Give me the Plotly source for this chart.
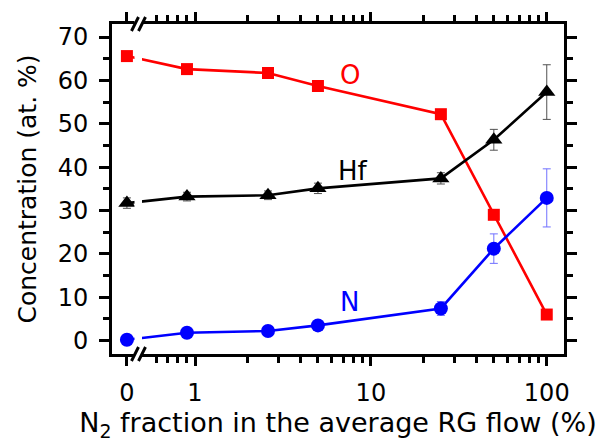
import math
import plotly.graph_objects as go

# N2 fraction in the average RG flow (%), first point is 0 (shown left of the axis break)
n2_fraction = [0, 0.9, 2.6, 5, 25, 50, 100]
x_tick_values = [0, 1, 10, 100]

# Composition (at. %) and uncertainties
o_conc = [65.6, 62.6, 61.7, 58.7, 52.2, 29.0, 6.0]
o_err = [0.5, 0.5, 0.5, 0.5, 0.5, 0.5, 0.5]
hf_conc = [31.7, 33.2, 33.5, 35.1, 37.4, 46.3, 57.3]
hf_err = [1.2, 1.0, 1.0, 1.2, 1.3, 2.4, 6.3]
n_conc = [0.2, 1.8, 2.2, 3.5, 7.4, 21.2, 32.9]
n_err = [0.4, 0.5, 0.5, 0.6, 1.6, 3.4, 6.7]

y_tick_values = [0, 10, 20, 30, 40, 50, 60, 70]

# position used for the zero value on the broken log axis
ZERO_POS = 0.41


def to_axis(v):
    return ZERO_POS if v == 0 else v


xs = [to_axis(v) for v in n2_fraction]

FONT = "DejaVu Sans, Arial, sans-serif"

fig = go.Figure()


def add_series(y, err, color, err_color, symbol, size):
    fig.add_trace(go.Scatter(
        x=xs, y=y, mode="lines+markers",
        line=dict(color=color, width=2.6),
        marker=dict(color=color, symbol=symbol, size=size, line=dict(width=0)),
        error_y=dict(type="data", array=err, visible=True,
                     color=err_color, thickness=1, width=4),
        showlegend=False,
    ))


add_series(o_conc, o_err, "#ff0000", "#ff6060", "square", 12)
add_series(hf_conc, hf_err, "#000000", "#505050", "triangle-up", 15)
add_series(n_conc, n_err, "#0000ff", "#7070ff", "circle", 14)

# axis geometry (pixels)
L, R, T, B = 112, 44, 24, 93
W, H = 608, 447
pw, ph = W - L - R, H - T - B
x_range = [-0.472, 2.098]


def px_x(p):
    return (p - L) / pw


def px_y(p):
    return (H - B - p) / ph


shapes = []
# gap in the data lines at the axis break
shapes.append(dict(type="rect", xref="paper", yref="paper",
                   x0=px_x(134.5), x1=px_x(142), y0=px_y(H - B + 8), y1=px_y(T - 8),
                   fillcolor="white", line=dict(width=0), layer="above"))
# break marks on the bottom and top axes
for base in (H - B, T):
    for x0 in (131.5, 138.5):
        shapes.append(dict(type="line", xref="paper", yref="paper",
                           x0=px_x(x0), y0=px_y(base + 7),
                           x1=px_x(x0 + 7), y1=px_y(base - 7),
                           line=dict(color="black", width=3), layer="above"))

annotations = [
    dict(text="O", x=math.log10(7.6), y=61.3, xref="x", yref="y", showarrow=False,
         font=dict(family=FONT, size=26, color="#ff0000")),
    dict(text="Hf", x=math.log10(7.9), y=39.1, xref="x", yref="y", showarrow=False,
         font=dict(family=FONT, size=26, color="#000000")),
    dict(text="N", x=math.log10(7.6), y=8.8, xref="x", yref="y", showarrow=False,
         font=dict(family=FONT, size=26, color="#0000ff")),
]

minor_x = [0.6, 0.7, 0.8, 0.9] + [k for k in range(2, 10)] + [10 * k for k in range(2, 10)]

fig.update_layout(
    width=W, height=H,
    margin=dict(l=L, r=R, t=T, b=B, pad=0),
    paper_bgcolor="white", plot_bgcolor="white",
    font=dict(family=FONT, size=24, color="black"),
    shapes=shapes,
    annotations=annotations,
    xaxis=dict(
        type="log", range=x_range,
        tickmode="array",
        tickvals=[to_axis(v) for v in x_tick_values],
        ticktext=[str(v) for v in x_tick_values],
        ticks="outside", ticklen=9, tickwidth=3, tickcolor="black",
        showline=True, linewidth=3, linecolor="black", mirror="ticks",
        showgrid=False, zeroline=False,
        tickfont=dict(family=FONT, size=24),
        ticklabelstandoff=6,
        minor=dict(tickmode="array", tickvals=minor_x, ticks="outside",
                   ticklen=6, tickwidth=3, tickcolor="black", showgrid=False),
        title=dict(text="N<sub>2</sub> fraction in the average RG flow (%)",
                   font=dict(family=FONT, size=27), standoff=8),
    ),
    yaxis=dict(
        range=[-3.1, 73.0],
        tickmode="array", tickvals=y_tick_values,
        ticks="outside", ticklen=10, tickwidth=3, tickcolor="black",
        showline=True, linewidth=3, linecolor="black", mirror="ticks",
        showgrid=False, zeroline=False,
        tickfont=dict(family=FONT, size=24),
        ticklabelstandoff=6,
        minor=dict(tickmode="linear", tick0=5, dtick=10, ticks="outside",
                   ticklen=6, tickwidth=3, tickcolor="black", showgrid=False),
        title=dict(text="Concentration (at. %)",
                   font=dict(family=FONT, size=25), standoff=14),
    ),
)

fig.write_html("out.html")
